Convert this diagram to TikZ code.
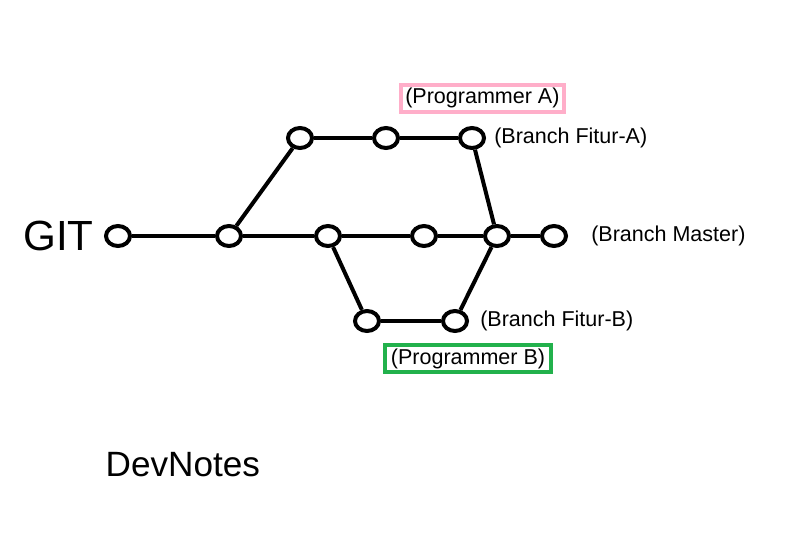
\documentclass[tikz,border=0pt]{standalone}
\usepackage{fontspec}
\setmainfont{Liberation Sans}
\usetikzlibrary{shapes,arrows}
\definecolor{rosePink}{HTML}{FFAEC9}
\definecolor{paintGreen}{HTML}{22B14C}
\tikzstyle{commit} = [ellipse, draw, line width=0.1cm, minimum width=0.6cm,
minimum height=0.5cm, inner sep=0pt]
\tikzstyle{blank} = [inner sep=0pt, font=\fontsize{15.3}{18}\selectfont]
\tikzstyle{owner} = [rectangle, draw, line width=0.1cm, inner sep=0pt,
minimum height=0.68cm, font=\fontsize{15.3}{18}\selectfont]
\tikzstyle{line} = [draw, line width=0.1cm]

\begin{document}
\begin{tikzpicture}

   \useasboundingbox (0,0) rectangle (20,-13.725);

   % Master branch
   \node[commit] (m1) at (2.95,-5.9) {};
   \node[commit] (m2) [right of = m1, node distance = 2.775cm] {};
   \node[commit] (m3) [right of = m2, node distance = 2.475cm] {};
   \node[commit] (m4) [right of = m3, node distance = 2.4cm] {};
   \node[commit] (m5) [right of = m4, node distance = 1.825cm] {};
   \node[commit] (m6) [right of = m5, node distance = 1.425cm] {};

   % Branch Fitur-A
   \node[commit] (a1) at (m2)[xshift=1.775cm,yshift=2.45cm] {};
   \node[commit] (a2) [right of = a1, node distance = 2.15cm] {};
   \node[commit] (a3) [right of = a2, node distance = 2.15cm] {};

   % Branch Fitur-B
   \node[commit] (b1) at (m3)[xshift=0.975cm,yshift=-2.125cm] {};
   \node[commit] (b2) [right of = b1, node distance = 2.2cm] {};

   %% Labels
   \node[blank, font=\fontsize{30}{36}\selectfont] (git) at (m1.west)[xshift=-0.25cm, anchor=east] {GIT};
   \node[blank] (brA) at (a3.east)[xshift=0.2cm, anchor=west] {(Branch Fitur-A)};
   \node[blank] (brM) at (m6.east)[xshift=0.575cm, anchor=west] {(Branch Master)};
   \node[blank] (brB) at (b2.east)[xshift=0.275cm, anchor=west] {(Branch Fitur-B)};

   \node[owner, draw=rosePink, minimum width=4.075cm] (progA) at (a3)[xshift=0.26cm,yshift=0.99cm] {(Programmer A)};
   \node[owner, draw=paintGreen, minimum width=4.15cm] (progB) at (b2)[xshift=0.325cm,yshift=-0.94cm] {(Programmer B)};

   \node[blank, font=\fontsize{25}{30}\selectfont] (dev) at (m1)[xshift=1.62cm,yshift=-5.72cm] {DevNotes};

   %% Lines
   \path[line] (m1) -- (m2);
   \path[line] (m2) -- (m3);
   \path[line] (m3) -- (m4);
   \path[line] (m4) -- (m5);
   \path[line] (m5) -- (m6);

   \path[line] (m2) -- (a1);
   \path[line] (a1) -- (a2);
   \path[line] (a2) -- (a3);
   \path[line] (a3) -- (m5);

   \path[line] (m3) -- (b1);
   \path[line] (b1) -- (b2);
   \path[line] (b2) -- (m5);

\end{tikzpicture}
\end{document}
